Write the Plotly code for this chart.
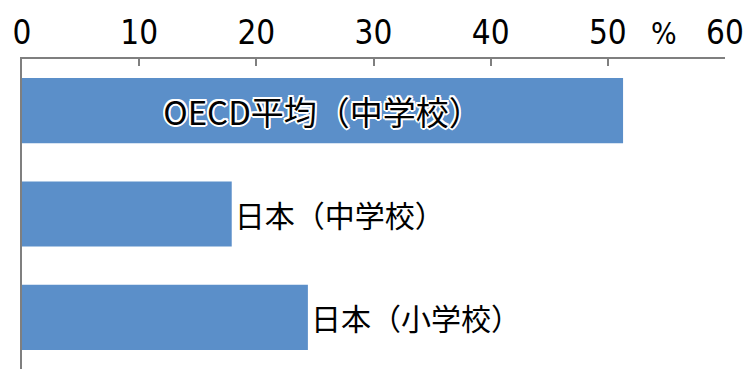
import plotly.graph_objects as go

categories = ["OECD平均（中学校）", "日本（中学校）", "日本（小学校）"]
values = [51.3, 17.9, 24.4]
tick_vals = [0, 10, 20, 30, 40, 50, 60]
tick_text = ["0", "10", "20", "30", "40", "50", "60"]
unit_label = "%"

bar_color = "#5b8fc9"
axis_color = "#7f7f7f"
cjk_font = "Noto Sans CJK JP"
num_font = "DejaVu Sans Condensed, DejaVu Sans, Arial"

halo = ", ".join(f"{dx}px {dy}px 0 white" for dx, dy in
                 [(2, 0), (-2, 0), (0, 2), (0, -2), (1.5, 1.5), (-1.5, -1.5), (1.5, -1.5), (-1.5, 1.5)])

fig = go.Figure()
fig.add_trace(go.Bar(
    y=categories,
    x=values,
    orientation="h",
    marker=dict(color=bar_color, line=dict(width=0)),
    text=categories,
    textposition=["inside", "outside", "outside"],
    insidetextanchor="middle",
    insidetextfont=dict(family=cjk_font, size=33, color="black", shadow=halo),
    outsidetextfont=dict(family=cjk_font, size=30, color="black"),
    constraintext="none",
    cliponaxis=False,
    width=0.63,
    hoverinfo="skip",
))

fig.update_layout(
    width=750, height=375,
    margin=dict(l=22, r=25, t=59, b=6),
    paper_bgcolor="white",
    plot_bgcolor="white",
    showlegend=False,
    xaxis=dict(
        side="top",
        range=[0, 60],
        tickvals=tick_vals,
        ticktext=tick_text,
        ticks="inside",
        ticklen=7,
        tickwidth=1.5,
        tickcolor=axis_color,
        showline=True,
        linecolor=axis_color,
        linewidth=1.5,
        showgrid=False,
        zeroline=False,
        tickfont=dict(family=num_font, size=33, color="black"),
        ticklabelstandoff=0,
        fixedrange=True,
    ),
    yaxis=dict(
        autorange="reversed",
        showticklabels=False,
        ticks="",
        showline=True,
        linecolor=axis_color,
        linewidth=1.5,
        showgrid=False,
        zeroline=False,
        fixedrange=True,
    ),
    annotations=[dict(
        x=54.8, y=1, xref="x", yref="paper",
        yanchor="bottom", yshift=6,
        text=unit_label, showarrow=False,
        font=dict(family=num_font, size=30, color="black"),
    )],
)

fig.write_html("out.html")
